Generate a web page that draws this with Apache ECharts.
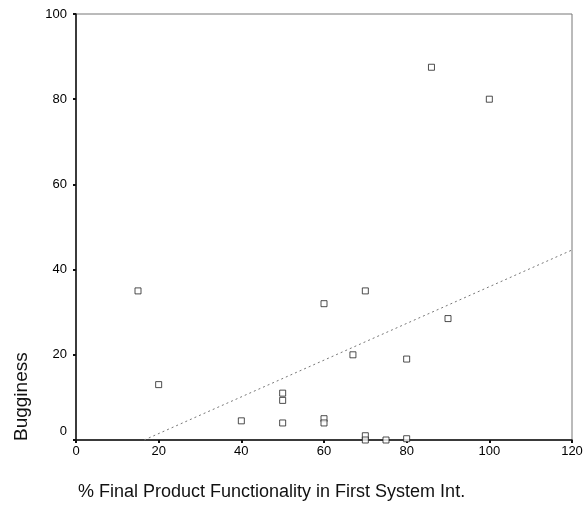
<!DOCTYPE html>
<html>
<head>
<meta charset="utf-8">
<script src="https://cdn.jsdelivr.net/npm/echarts@6/dist/echarts.min.js"></script>
<style>html,body{margin:0;padding:0;background:#fff;}#c{width:586px;height:517px;}</style>
</head>
<body>
<div id="c"></div>
<script>
// Data
var xValues = [15, 20, 40, 50, 50, 50, 60, 60, 60, 67, 70, 70, 70, 75, 80, 80, 86, 90, 100];
var yValues = [35, 13, 4.5, 11, 9.3, 4, 32, 5, 4, 20, 35, 1, 0, 0, 19, 0.3, 87.5, 28.5, 80];
var fitX = [16.5, 120];
var fitY = [0, 44.6];
var xTicks = [0, 20, 40, 60, 80, 100, 120];
var yTicks = [0, 20, 40, 60, 80, 100];
var xTitle = '% Final Product Functionality in First System Int.';
var yTitle = 'Bugginess';

var pts = xValues.map(function (x, i) { return [x, yValues[i]]; });
var fitLine = fitX.map(function (x, i) { return [x, fitY[i]]; });

var chart = echarts.init(document.getElementById('c'), null, {renderer: 'canvas'});
var font = 'Liberation Sans, Arial, sans-serif';
chart.setOption({
  animation: false,
  backgroundColor: '#fff',
  grid: {left: 76, right: 14, top: 14, bottom: 77, show: true, borderColor: '#777', borderWidth: 1},
  xAxis: {
    type: 'value', min: xTicks[0], max: xTicks[xTicks.length - 1], interval: 20,
    splitLine: {show: false},
    axisLine: {lineStyle: {color: '#111', width: 1.5}},
    axisTick: {show: true, length: 3, lineStyle: {color: '#111', width: 2}},
    axisLabel: {color: '#000', fontSize: 13, fontFamily: font, margin: 5}
  },
  yAxis: {
    type: 'value', min: yTicks[0], max: yTicks[yTicks.length - 1], interval: 20,
    splitLine: {show: false},
    axisLine: {lineStyle: {color: '#111', width: 1.5}},
    axisTick: {show: true, length: 3, lineStyle: {color: '#111', width: 2}},
    axisLabel: {
      color: '#000', fontSize: 13, fontFamily: font, margin: 9,
      formatter: function (v) { return v === 0 ? '{z|0}' : String(v); },
      rich: {z: {fontSize: 13, fontFamily: font, color: '#000', padding: [0, 0, 18, 0]}}
    }
  },
  graphic: [
    {type: 'text', left: 78, top: 483, style: {text: xTitle, font: '18px ' + font, fill: '#111'}},
    {type: 'text', x: 12, y: 441, rotation: Math.PI / 2, style: {text: yTitle, font: '19px ' + font, fill: '#111', textAlign: 'left', textVerticalAlign: 'top'}}
  ],
  series: [
    {
      type: 'line', data: fitLine, symbol: 'none', silent: true,
      lineStyle: {color: '#777', width: 1, type: [2, 3]}
    },
    {
      type: 'scatter', data: pts, symbol: 'rect', symbolSize: 6,
      itemStyle: {color: '#fff', borderColor: '#222', borderWidth: 1}
    }
  ]
});
</script>
</body>
</html>
